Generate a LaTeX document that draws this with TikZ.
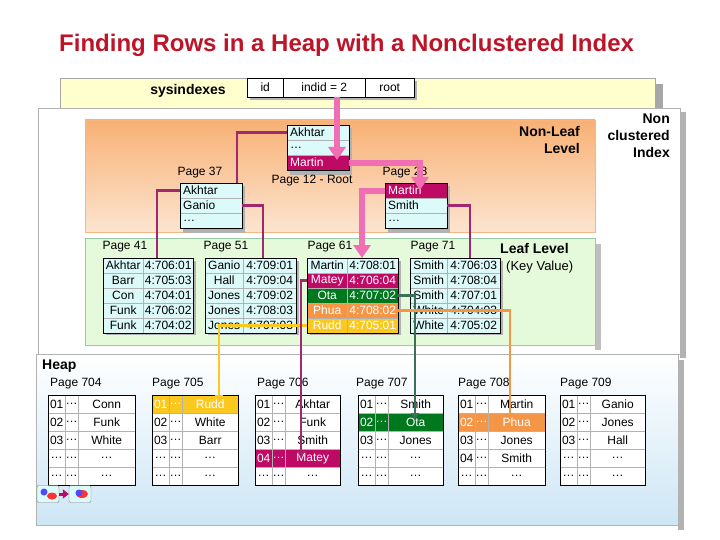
\documentclass[tikz,border=0pt]{standalone}
\usepackage{fontspec}
\setmainfont{Liberation Sans}
\usetikzlibrary{arrows.meta}
\definecolor{titlered}{RGB}{190,20,40}
\definecolor{mag}{RGB}{190,10,100}
\definecolor{thinmag}{RGB}{160,40,110}
\definecolor{pinkA}{RGB}{240,110,180}
\definecolor{okgreen}{RGB}{0,120,30}
\definecolor{linegreen}{RGB}{60,110,90}
\definecolor{orng}{RGB}{245,150,70}
\definecolor{yel}{RGB}{250,200,30}
\definecolor{cyanL}{RGB}{220,250,250}
\definecolor{sysY}{RGB}{255,255,205}
\definecolor{leafG}{RGB}{228,250,218}
\definecolor{heapB}{RGB}{205,230,245}
\tikzset{
 cell/.style={draw=gray!60,rectangle,inner sep=0,anchor=north west,font=\fontsize{12}{12}\selectfont},
 outer/.style={draw=black,line width=0.8},
 thin/.style={draw=thinmag,line width=2.5},
 fat/.style={draw=pinkA,line width=6,-{Triangle[length=13,width=17]}},
 conn/.style={line width=2.5,-{Triangle[length=7,width=8]}},
 lbl/.style={font=\fontsize{12}{12}\selectfont,inner sep=0},
 big/.style={font=\bfseries\fontsize{14}{17}\selectfont,inner sep=0}
}
\newcommand\leaftab[5]{%
 \fill[gray!60] (#2+3,261) rectangle (#4+3,335);
 \foreach \a/\b/\f/\tc [count=\i] in {#5}{%
  \pgfmathsetmacro\yy{258+15*(\i-1)}
  \node[cell,fill=\f,text=\tc,minimum width={(#3-#2)*1pt},minimum height=15pt] (#1n\i) at (#2,\yy) {\a};
  \node[cell,fill=\f,text=\tc,minimum width={(#4-#3)*1pt},minimum height=15pt] (#1k\i) at (#3,\yy) {\b};
 }
 \draw[outer] (#2,258) rectangle (#4,333);
}
\newcommand\heaptab[4]{%
 \foreach \a/\b/\f/\tc [count=\i] in {#4}{%
  \pgfmathsetmacro\yy{395+18*(\i-1)}
  \node[cell,fill=\f,text=\tc,minimum width=17pt,minimum height=18pt] (#1a\i) at (#2,\yy) {\a};
  \node[cell,fill=\f,text=\tc,minimum width=13pt,minimum height=18pt] (#1b\i) at (#2+17,\yy) {\dots};
  \node[cell,fill=\f,text=\tc,minimum width={(#3-#2-30)*1pt},minimum height=18pt] (#1c\i) at (#2+30,\yy) {\b};
 }
 \draw[outer] (#2,395) rectangle (#3,485);
}
\newcommand\idxtab[4]{%
 \fill[gray!60] (#2+3,#3+3) rectangle (#2+65,#3+50);
 \foreach \a/\f/\tc [count=\i] in {#4}{%
  \pgfmathsetmacro\yy{#3+15*(\i-1)}
  \node[cell,fill=\f,text=\tc,minimum width=62pt,minimum height=15pt,text width=56pt,align=left] (#1r\i) at (#2,\yy) {\a};
 }
 \draw[outer] (#2,#3) rectangle (#2+62,#3+45);
}
\begin{document}
\begin{tikzpicture}[x=1pt,y=-1pt]
\useasboundingbox (0,0) rectangle (720,540);
\fill[white] (0,0) rectangle (720,540);
\node[font=\bfseries\fontsize{24}{26}\selectfont,text=titlered,inner sep=0,anchor=west] (title) at (59,45) {Finding Rows in a Heap with a Nonclustered Index};
\fill[gray!70] (655,84) rectangle (663,112);
\draw[draw=gray!70,fill=sysY] (60,78) rectangle (655,108);
\node[big] (sysl) at (188,91) {sysindexes};
\fill[gray!60] (250,81) rectangle (417,100);
\node[cell,draw=black,fill=white,minimum width=36pt,minimum height=19pt] (s1) at (247,78) {id};
\node[cell,draw=black,fill=white,minimum width=82pt,minimum height=19pt] (s2) at (283,78) {indid = 2};
\node[cell,draw=black,fill=white,minimum width=49pt,minimum height=19pt] (s3) at (365,78) {root};
\fill[gray!60] (680,112) rectangle (686,358);
\draw[draw=gray!60,fill=white] (38,108) rectangle (680,354);
\shade[top color=orng!75,bottom color=orng!25,draw=orng!70] (85,120) rectangle (595,232);
\fill[gray!50] (595,244) rectangle (601,350);
\draw[draw=okgreen!40,fill=leafG] (85,238) rectangle (595,345);
\node[big,align=right,anchor=north east] (nl) at (580,126) {Non-Leaf\\Level};
\node[big,align=right,anchor=north east] (nci) at (670,114) {Non\\clustered\\Index};
\node[big,anchor=west] (ll) at (500,248) {Leaf Level};
\node[lbl,font=\fontsize{13}{14}\selectfont,anchor=west] (kv) at (506,267) {(Key Value)};
\fill[gray!60] (678,360) rectangle (684,530);
\shade[top color=white,bottom color=heapB,draw=gray!60] (36,354) rectangle (678,525);
\node[big,anchor=west] (heap) at (42,366) {Heap};
\idxtab{root}{287}{125}{Akhtar/cyanL/black,\dots/cyanL/black,Martin/mag/white}
\node[lbl] (rootl) at (312,181) {Page 12 - Root};
\idxtab{pa}{180}{183}{Akhtar/cyanL/black,Ganio/cyanL/black,\dots/cyanL/black}
\node[lbl] (pal) at (200,173) {Page 37};
\idxtab{pb}{385}{183}{Martin/mag/white,Smith/cyanL/black,\dots/cyanL/black}
\node[lbl] (pbl) at (405,173) {Page 28};
\coordinate (t1) at (237,183);
\draw[thin] (rootr1.west) -| (t1);
\coordinate (t2) at (157,258);
\draw[thin] (par1.west) -| (t2);
\coordinate (t3) at (263,258);
\draw[thin] (par2.east) -| (t3);
\coordinate (t4) at (470,258);
\draw[thin] (pbr2.east) -| (t4);
\node[lbl] (l41) at (125,247) {Page 41};
\node[lbl] (l51) at (226,247) {Page 51};
\node[lbl] (l61) at (330,247) {Page 61};
\node[lbl] (l71) at (433,247) {Page 71};
\leaftab{la}{103}{143}{193}{Akhtar/4:706:01/cyanL/black,Barr/4:705:03/cyanL/black,Con/4:704:01/cyanL/black,Funk/4:706:02/cyanL/black,Funk/4:704:02/cyanL/black}
\leaftab{lb}{205}{243}{296}{Ganio/4:709:01/cyanL/black,Hall/4:709:04/cyanL/black,Jones/4:709:02/cyanL/black,Jones/4:708:03/cyanL/black,Jones/4:707:03/cyanL/black}
\leaftab{lc}{307}{347}{398}{Martin/4:708:01/cyanL/black,Matey/4:706:04/mag/white,Ota/4:707:02/okgreen/white,Phua/4:708:02/orng/white,Rudd/4:705:01/yel/white}
\leaftab{ld}{410}{447}{500}{Smith/4:706:03/cyanL/black,Smith/4:708:04/cyanL/black,Smith/4:707:01/cyanL/black,White/4:704:03/cyanL/black,White/4:705:02/cyanL/black}
\node[lbl,anchor=west] (h4) at (50,384) {Page 704};
\node[lbl,anchor=west] (h5) at (152,384) {Page 705};
\node[lbl,anchor=west] (h6) at (257,384) {Page 706};
\node[lbl,anchor=west] (h7) at (356,384) {Page 707};
\node[lbl,anchor=west] (h8) at (458,384) {Page 708};
\node[lbl,anchor=west] (h9) at (560,384) {Page 709};
\heaptab{ha}{48}{135}{01/Conn/white/black,02/Funk/white/black,03/White/white/black,\dots/\dots/white/black,\dots/\dots/white/black}
\heaptab{hb}{152}{238}{01/Rudd/yel/white,02/White/white/black,03/Barr/white/black,\dots/\dots/white/black,\dots/\dots/white/black}
\heaptab{hc}{255}{340}{01/Akhtar/white/black,02/Funk/white/black,03/Smith/white/black,04/Matey/mag/white,\dots/\dots/white/black}
\heaptab{hd}{358}{443}{01/Smith/white/black,02/Ota/okgreen/white,03/Jones/white/black,\dots/\dots/white/black,\dots/\dots/white/black}
\heaptab{he}{458}{545}{01/Martin/white/black,02/Phua/orng/white,03/Jones/white/black,04/Smith/white/black,\dots/\dots/white/black}
\heaptab{hf}{560}{645}{01/Ganio/white/black,02/Jones/white/black,03/Hall/white/black,\dots/\dots/white/black,\dots/\dots/white/black}
\coordinate (f0) at (337,97);
\coordinate (f1) at (337,160);
\draw[fat] (f0) -- (f1);
\coordinate (f2) at (420,190);
\draw[fat] (rootr3.east) -| (f2);
\coordinate (f3) at (362,258);
\draw[fat] (pbr1.west) -| (f3);
\coordinate (c1) at (219,402);
\draw[conn,draw=yel] (lcn5.west) -| (c1);
\coordinate (c2) at (301,458);
\draw[conn,draw=thinmag] (lcn2.west) -| (c2);
\coordinate (c3) at (415,420);
\draw[conn,draw=linegreen] (lck3.east) -| (c3);
\coordinate (c4) at (510,420);
\draw[conn,draw=orng] (lck4.east) -| (c4);
\node[draw=gray,fill=cyanL,rounded corners=2,minimum width=22pt,minimum height=17pt] (ic1) at (48,494) {};
\node[draw=gray,fill=cyanL,rounded corners=2,minimum width=22pt,minimum height=17pt] (ic2) at (80,494) {};
\fill[blue!70] (44,492) circle (3.5);
\fill[red!80] (52,496) ellipse (5 and 3.5);
\fill[red!80] (82,494) ellipse (6 and 4);
\fill[blue!70] (79,493) circle (3.5);
\draw[mag,line width=3,-{Triangle[length=6,width=9]}] (ic1.east) -- (ic2.west);
\end{tikzpicture}
\end{document}
